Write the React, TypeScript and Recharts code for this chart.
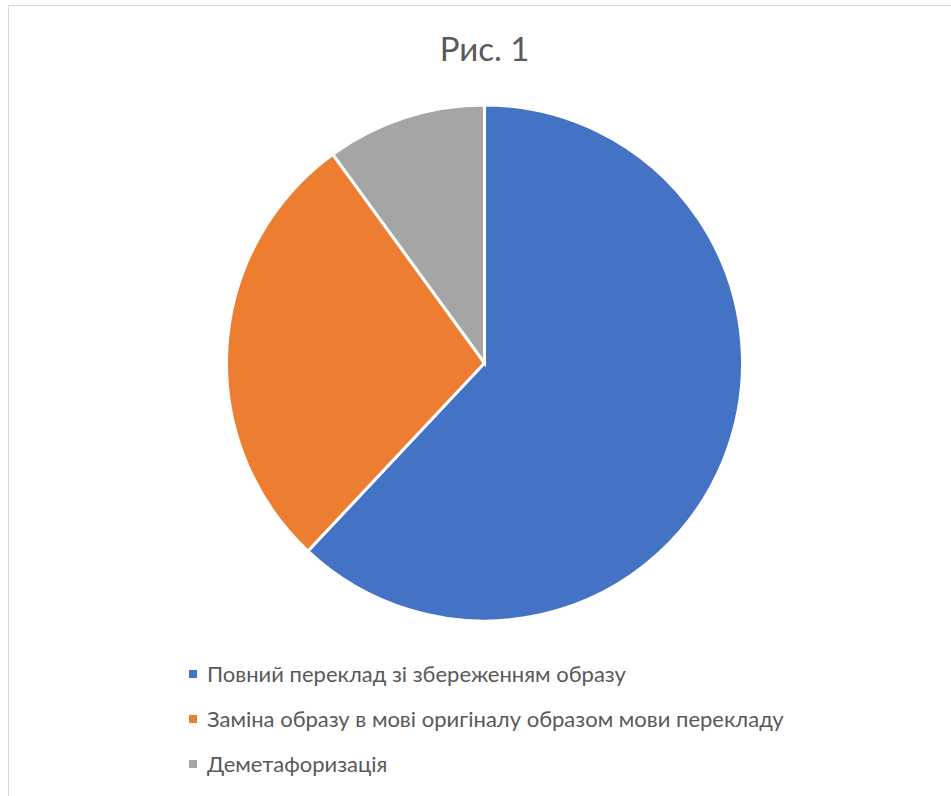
import { PieChart, Pie, Cell, Legend } from "recharts";

const categories = [
  "Повний переклад зі збереженням образу",
  "Заміна образу в мові оригіналу образом мови перекладу",
  "Деметафоризація",
];
const values = [62, 28, 10];
const colors = ["#4472c4", "#ed7d31", "#a5a5a5"];

const data = categories.map((name, i) => ({ name, value: values[i] }));

const font = "Lato, 'Open Sans', sans-serif";

function LegendBox() {
  return (
    <div style={{ fontFamily: font, fontSize: 22, color: "#595959" }}>
      {categories.map((c, i) => (
        <div key={c} style={{ display: "flex", alignItems: "center", height: 45 }}>
          <div style={{ width: 8, height: 8, background: colors[i], marginRight: 10 }} />
          <span>{c}</span>
        </div>
      ))}
    </div>
  );
}

export default function App() {
  return (
    <div
      style={{
        position: "absolute",
        left: 0,
        top: 0,
        width: 951,
        height: 796,
        overflow: "hidden",
        background: "#fff",
      }}
    >
      <div
        style={{
          position: "absolute",
          left: 8,
          top: 5,
          width: 1100,
          height: 1000,
          border: "1px solid #d9d9d9",
        }}
      />
      <div
        style={{
          position: "absolute",
          left: 0,
          width: 969,
          top: 28,
          textAlign: "center",
          fontFamily: font,
          fontSize: 33,
          color: "#595959",
        }}
      >
        Рис. 1
      </div>
      <div style={{ position: "absolute", left: 0, top: 0 }}>
        <PieChart width={951} height={796} margin={{ top: 0, right: 0, bottom: 0, left: 0 }}>
          <Pie
            data={data}
            dataKey="value"
            nameKey="name"
            cx={484.5}
            cy={363}
            outerRadius={258}
            startAngle={90}
            endAngle={-270}
            stroke="#ffffff"
            strokeWidth={3}
            isAnimationActive={false}
          >
            {data.map((d, i) => (
              <Cell key={d.name} fill={colors[i]} />
            ))}
          </Pie>
          <Legend
            content={<LegendBox />}
            wrapperStyle={{ position: "absolute", left: 189, top: 651, width: 720 }}
          />
        </PieChart>
      </div>
    </div>
  );
}
